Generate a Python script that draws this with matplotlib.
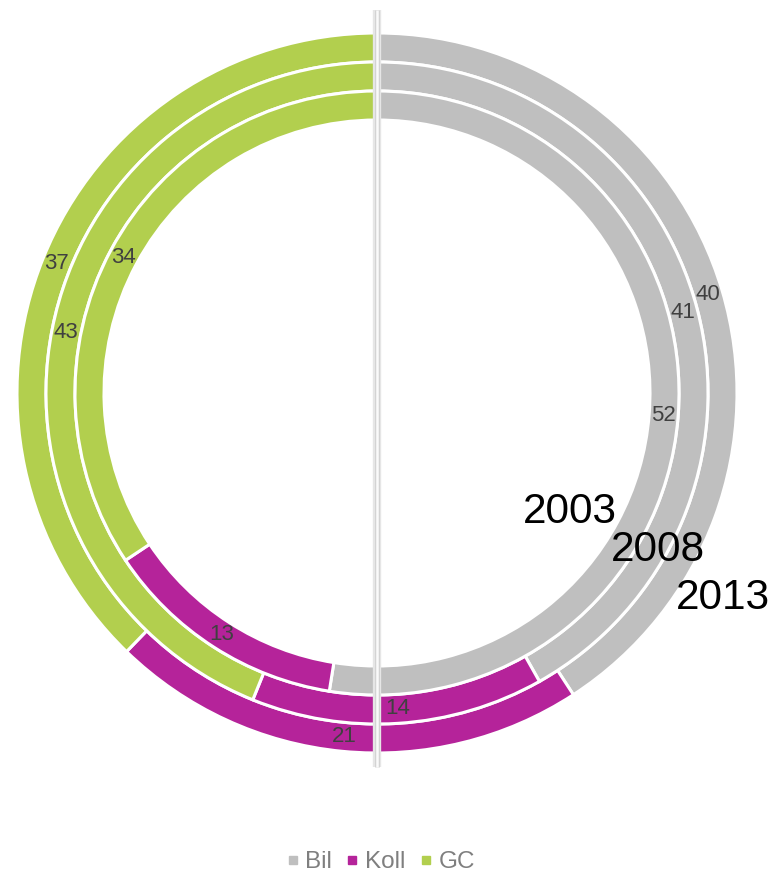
import numpy as np
import matplotlib
matplotlib.use('Agg')
import matplotlib.pyplot as plt
from matplotlib.lines import Line2D

plt.rcParams['font.family'] = ['Liberation Sans', 'DejaVu Sans']

categories = ['Bil', 'Koll', 'GC']
years = ['2003', '2008', '2013']
values = {
    '2003': [52, 13, 34],
    '2008': [41, 14, 43],
    '2013': [40, 21, 37],
}
colors = ['#BFBFBF', '#B5239A', '#B2CF4E']

W, H = 779, 874
cx, cy = 377, 393          # ring centre in pixels from top-left
r_out, ring_w = 360, 29

fig = plt.figure(figsize=(W / 100, H / 100), dpi=100)
ax = fig.add_axes([0, 0, 1, 1])

# outermost ring = latest year
for i, yr in enumerate(years[::-1]):
    r = r_out - i * ring_w
    vals = values[yr]
    wedges, _ = ax.pie(vals, radius=r, colors=colors, startangle=90, counterclock=False,
                       wedgeprops=dict(width=ring_w, edgecolor='white', linewidth=2.2))
    tot = float(sum(vals))
    start = 90.0
    rm = r - ring_w / 2
    for v in vals:
        mid = start - v / tot * 360 / 2
        start -= v / tot * 360
        ax.text(rm * np.cos(np.radians(mid)), rm * np.sin(np.radians(mid)), str(v),
                ha='center', va='center', fontsize=16, color='#404040')

# vertical divider with soft shadow
ax.plot([0, 0], [cy - 10, cy - 767], color='#E6E6E6', lw=6, solid_capstyle='butt', zorder=5)
ax.plot([0, 0], [cy - 10, cy - 767], color='#D2D2D2', lw=3.5, solid_capstyle='butt', zorder=5)
ax.plot([0, 0], [cy - 10, cy - 767], color='#FAFAFA', lw=1.8, solid_capstyle='butt', zorder=6)

# year labels
year_pos = {'2003': (570, 512), '2008': (658, 550), '2013': (723, 598)}
for yr in years:
    px, py = year_pos[yr]
    ax.text(px - cx, cy - py, yr, ha='center', va='center', fontsize=30.5, color='black', zorder=7)

ax.set_xlim(-cx, W - cx)
ax.set_ylim(cy - H, cy)
ax.set_aspect('equal')
ax.axis('off')

handles = [Line2D([], [], marker='s', linestyle='none', markersize=6, color=c) for c in colors]
fig.legend(handles, categories, loc='center', bbox_to_anchor=(381 / W, 1 - 862 / H), ncol=3,
           frameon=False, fontsize=17.5, labelcolor='#7F7F7F', handlelength=0.45,
           handletextpad=0.3, columnspacing=0.6)

fig.savefig('out.png', dpi=100)
